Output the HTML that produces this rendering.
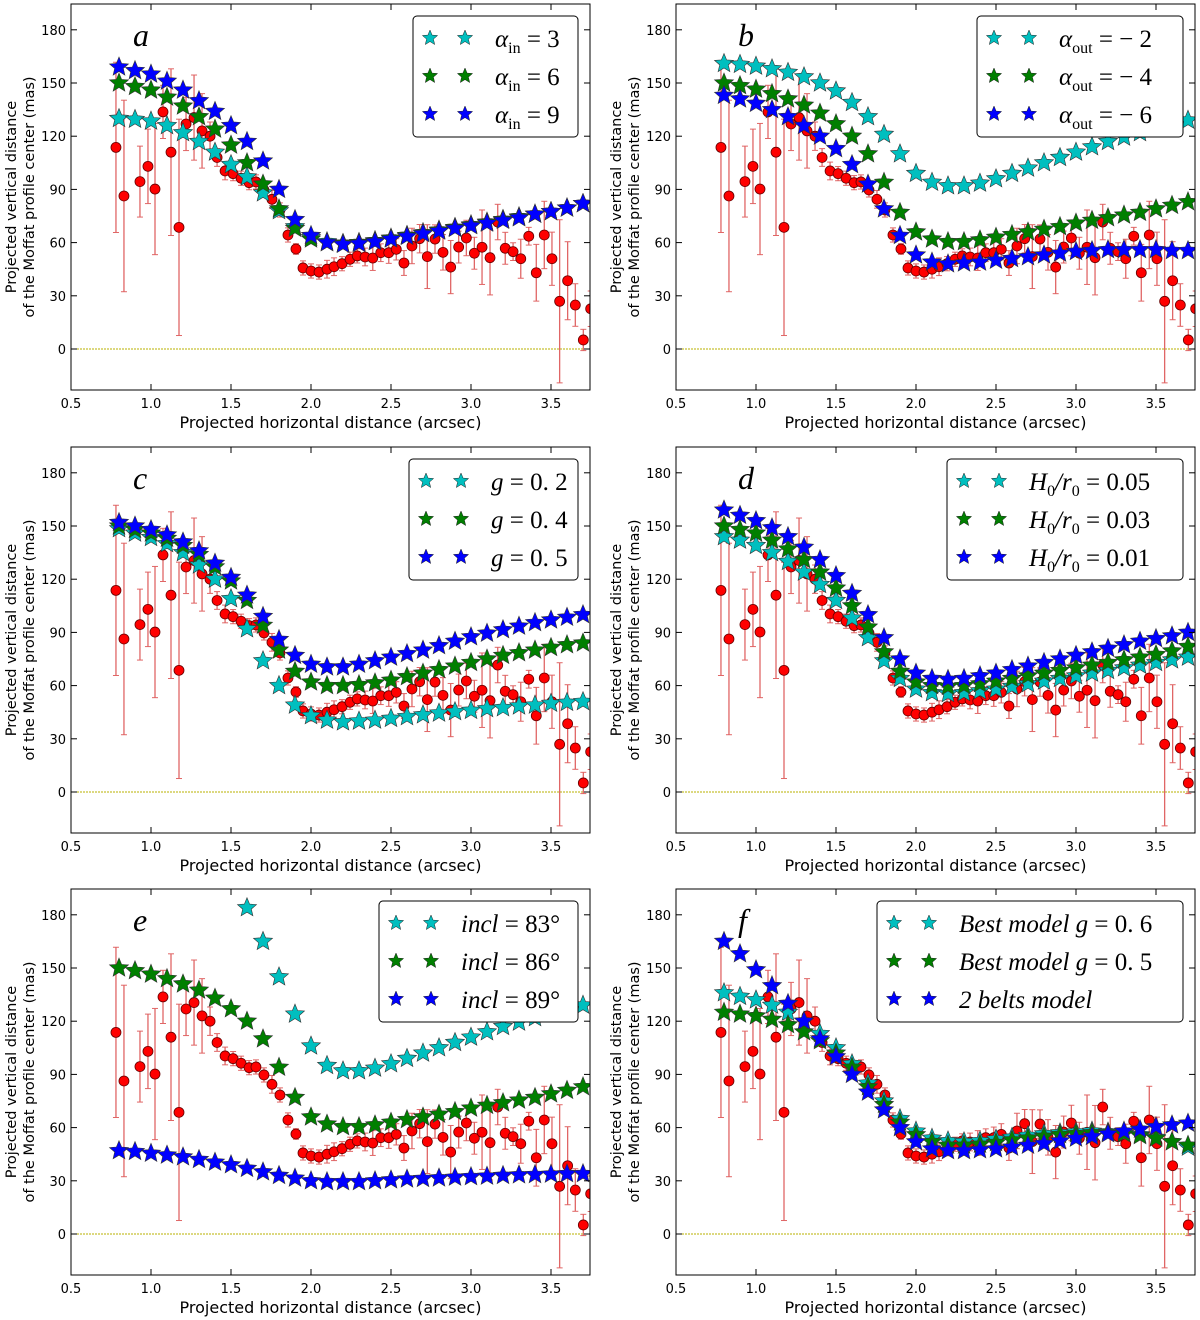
<!DOCTYPE html>
<html><head><meta charset="utf-8"><style>
body{margin:0;background:#fff;}
svg{display:block;font-family:"DejaVu Sans","Liberation Sans",sans-serif;}
.lt{font-family:"Liberation Serif",serif;font-size:25px;}
</style></head><body>
<svg id="fig" width="1200" height="1320" viewBox="0 0 1200 1320" xmlns="http://www.w3.org/2000/svg"></svg>
<script>
// ---- data ----
const redX=[0.781,0.831,0.931,0.981,1.025,1.075,1.125,1.175,1.219,1.269,1.319,1.369,1.413,1.463,1.513,1.563,1.613,1.656,1.706,1.756,1.806,1.856,1.906,1.95,2.0,2.05,2.1,2.144,2.194,2.244,
2.289,2.338,2.386,2.436,2.486,2.533,2.581,2.631,2.679,2.727,2.775,2.825,2.873,2.923,2.971,3.021,3.069,3.119,3.167,3.214,3.263,3.311,3.361,3.408,3.458,3.506,3.554,3.604,3.652,3.702,3.748];
const redY=[113.7,86.3,94.4,103,90.2,133.7,111,68.6,126.9,130.5,123,120,108,100.4,98.9,96.3,93.8,94.2,89.7,84.4,78.4,64.3,56.4,45.7,44,43.4,45,46.4,48.1,50.6,
52.5,51.9,51.3,54.3,54.3,56.2,48.5,58.1,62.2,52.1,62,54.5,46.2,57.5,62.6,54,57.4,51.5,71.6,56.8,54.9,50.9,63.6,43,64.3,50.9,26.9,38.5,24.8,5.1,22.7];
const redErr=[48,54,20,21,37,15,47,61,15,24,21,8,5,5,4,4,4,4,4,5,4,4,3,4,4,4,5,5,4,4,
4,5,7,5,6,6,7,10,8,18,8,10,15,9,10,9,21,21,10,9,5,11,5,16,19,15,46,22,12,6,10];
const modelX=[0.8,0.9,1.0,1.1,1.2,1.3,1.4,1.5,1.6,1.7,1.8,1.9,2.0,2.1,2.2,2.3,2.4,2.5,2.6,2.7,2.8,2.9,3.0,3.1,3.2,3.3,3.4,3.5,3.6,3.7];
const aCyan=[130,129.5,128.5,126,122,117,111,104,97,88,78,69,63,60.5,59.5,60,61,62.5,64,65.5,67,68.5,70,71.5,73,74.5,76,77.5,79.5,82];
const aGreen=[150,148,146,142,137,131,124,115,105,93,79,68,62,60,59.5,60,61,62.5,64,65.5,67,68.5,70,71.5,73,74.5,76,77.5,79.5,82];
const aBlue=[159,157,155,151,146,140,134,126,117,106,90,73,64,60,59,59.5,60.5,62,63.5,65,66.5,68,69.5,71,72.5,74,76,77.5,79.5,82];
const bCyan=[161,160.5,159.5,158,156,153.5,150,145.5,139,131,121,110,99,94,92,92,93.5,96,99,102,105,108,111,114,117,119.5,122,124.5,127,129];
const bGreen=[150,148.5,146.5,144,141,137.5,133,127,120,110,94,77,66,62,60.5,60.5,61.5,63,64.5,66,67.5,69,71,72.5,74,75.5,77,79,81,83];
const bBlue=[143,141,138.5,135,131,126,120,113,104,93,79,64,53,49,48,48.5,49,50,51,52,53,54,55,55.5,56,56,56,56,55.5,55.5];
const cCyan=[148.5,146,143.5,140,135,128,120,109,92,74,60,49,43,40.5,39.5,40,40.5,41.5,42.5,43.5,44.5,45.3,46,47,47.5,48.5,49,50,50.5,51];
const cGreen=[150,148,146,143,139,134,127,119,108,94,80,68,62,60,60,60.5,61.5,63,65,67,69,71,73,75,77,78.5,80,81.5,83,84];
const cBlue=[152,150,148,145,141,136,129,121,111,99,86,77,72,70.5,70.5,72,74,76,78,80,82.5,85,87.5,89.5,91.5,93.5,95.5,97,98.5,100];
const dCyan=[144,142,139,135,130,124,117,108,98,87,74,64,58,56,55.5,56,57,58,59.5,61,62.5,64,65.5,67,68.5,70,71.5,73,74.5,76];
const dGreen=[150,148,146,142,137,131,124,115,105,93,79,68,62,60,59.5,60,61,62.5,64,65.5,67,68.5,70,71.5,73,74.5,76,77.5,79.5,82];
const dBlue=[159,156,153,149,144,138,131,122,112,100,87,75,67,64,63.5,64,65.5,67,69,71,73,75,77,79,81,83,85,86.5,88,90];
const eCyan=[300,290,280,265,250,235,218,201,184,165,145,124,106,95,92,92,93.5,96,99,102,105,108,111,114,117,119.5,122,124.5,127,129];
const eGreen=[150,148.5,146.5,144,141,137.5,133,127,120,110,94,77,66,62,60.5,60.5,61.5,63,64.5,66,67.5,69,71,72.5,74,75.5,77,79,81,83];
const eBlue=[47,46.5,45.5,44.5,43.5,42,40.5,39,37,35,33,31.5,30,29.5,29.5,29.5,30,30.5,31,31.3,31.6,32,32.3,32.6,33,33.3,33.5,33.7,34,34];
const fCyan=[136,134,132,129,125,120,113,105,96,85,75,65,58,54,52.5,52,52.5,53.5,54.5,55.5,56.5,57,57.5,58,57.5,57,56,54.5,52,49];
const fGreen=[125,124,123,121,118,114,109,102,94,83,73,63,56,52,50,50,50.5,51.5,53,54,55,56,56.5,57,57,56.5,55.5,54,52,50];
const fBlue=[165,158,149,140,130,120,110,100,90,80,70,60,52,48,47,47,47.5,48,49,50,51,52.5,54,55,56.5,58,59,60.5,61.5,62.5];
const xTicks=[0.5,1.0,1.5,2.0,2.5,3.0,3.5];
const xTickLabels=["0.5","1.0","1.5","2.0","2.5","3.0","3.5"];
const yTicks=[0,30,60,90,120,150,180];
const yTickLabels=["0","30","60","90","120","150","180"];

const NS="http://www.w3.org/2000/svg";
const svg=document.getElementById('fig');
function mk(tag,attrs,parent){const e=document.createElementNS(NS,tag);for(const k in attrs)e.setAttribute(k,attrs[k]);(parent||svg).appendChild(e);return e;}
function starPath(cx,cy,R){const r=R*0.45;let d='';for(let i=0;i<10;i++){const a=-Math.PI/2+i*Math.PI/5;const rr=i%2?r:R;d+=(i?'L':'M')+(cx+rr*Math.cos(a)).toFixed(1)+','+(cy+rr*Math.sin(a)).toFixed(1);}return d+'Z';}
const COL={cyan:'#00bfbf',green:'#007f00',blue:'#0000ff'};

const panels=[
 {id:'a',ox:0,oy:0,series:[['cyan',aCyan],['green',aGreen],['blue',aBlue]],leg:[413,578],labels:[['α','in','= 3'],['α','in','= 6'],['α','in','= 9']]},
 {id:'b',ox:605,oy:0,series:[['cyan',bCyan],['green',bGreen],['blue',bBlue]],leg:[977,1183],labels:[['α','out','= − 2'],['α','out','= − 4'],['α','out','= − 6']]},
 {id:'c',ox:0,oy:443,series:[['cyan',cCyan],['green',cGreen],['blue',cBlue]],leg:[409,578],labels:[['g','','= 0. 2'],['g','','= 0. 4'],['g','','= 0. 5']]},
 {id:'d',ox:605,oy:443,series:[['cyan',dCyan],['green',dGreen],['blue',dBlue]],leg:[947,1183],labels:[['H','0','/r'],['H','0','/r'],['H','0','/r']],dl:['0.05','0.03','0.01']},
 {id:'e',ox:0,oy:885,series:[['cyan',eCyan],['green',eGreen],['blue',eBlue]],leg:[379,578],labels:[['incl','','= 83°'],['incl','','= 86°'],['incl','','= 89°']]},
 {id:'f',ox:605,oy:885,series:[['cyan',fCyan],['green',fGreen],['blue',fBlue]],leg:[877,1183],labels:[['Best model g','','= 0. 6'],['Best model g','','= 0. 5'],['2 belts model','','']]}
];

panels.forEach(p=>{
  const g=mk('g',{});
  
  
  const L=71+p.ox,R=590+p.ox,T=4+p.oy,B=390+p.oy;
  const sx=x=>L+(x-0.5)*160;
  const sy=v=>349+p.oy-v*1.7733;
  const cid='clip'+p.id;
  const cp=mk('clipPath',{id:cid},g);mk('rect',{x:L,y:T,width:R-L,height:B-T},cp);
  const zl=mk('line',{x1:L,x2:R,y1:sy(0),y2:sy(0),stroke:'#b8b000','stroke-width':1,'stroke-dasharray':'2,1'},g);
  
  
  const plot=mk('g',{'clip-path':'url(#'+cid+')'},g);
  const eg=mk('g',{},plot);
  
  
  redX.forEach((x,i)=>{
    const cx=sx(x),y1=sy(redY[i]+redErr[i]),y2=sy(redY[i]-redErr[i]);
    mk('line',{x1:cx,x2:cx,y1:y1,y2:y2,stroke:'#e06666','stroke-width':1.3},eg);
    mk('line',{x1:cx-3,x2:cx+3,y1:y1,y2:y1,stroke:'#e06666','stroke-width':1},eg);
    mk('line',{x1:cx-3,x2:cx+3,y1:y2,y2:y2,stroke:'#e06666','stroke-width':1},eg);
  });
  redX.forEach((x,i)=>{
    const c=mk('circle',{cx:sx(x),cy:sy(redY[i]),r:5,fill:'#ff0000',stroke:'#600','stroke-width':0.8},eg);
    
    
  });
  p.series.forEach(([col,vals])=>{
    const sg=mk('g',{},plot);
    
    
    modelX.forEach((x,i)=>{
      const s=mk('path',{d:starPath(sx(x),sy(vals[i]),10),fill:COL[col],stroke:'#333','stroke-width':0.6},sg);
      
      
    });
  });
  const fr=mk('rect',{x:L,y:T,width:R-L,height:B-T,fill:'none',stroke:'#000','stroke-width':1},g);
  
  
  xTicks.forEach((t,i)=>{
    const X=sx(t);
    mk('line',{x1:X,x2:X,y1:B,y2:B-6,stroke:'#000'},g);
    mk('line',{x1:X,x2:X,y1:T,y2:T+6,stroke:'#000'},g);
    const tl=mk('text',{x:X,y:B+18,'text-anchor':'middle','font-size':13},g);
    tl.textContent=xTickLabels[i];
    
    
  });
  yTicks.forEach((t,i)=>{
    const Y=sy(t);
    mk('line',{x1:L,x2:L+6,y1:Y,y2:Y,stroke:'#000'},g);
    mk('line',{x1:R,x2:R-6,y1:Y,y2:Y,stroke:'#000'},g);
    const tl=mk('text',{x:L-5,y:Y+5,'text-anchor':'end','font-size':13},g);
    tl.textContent=yTickLabels[i];
    
    
  });
  const xt=mk('text',{x:(L+R)/2,y:B+38,'text-anchor':'middle','font-size':16},g);
  xt.textContent='Projected horizontal distance (arcsec)';
  
  
  const cy=(T+B)/2;
  const yt=mk('text',{'text-anchor':'middle','font-size':14.5,transform:'translate('+(p.ox+16)+','+cy+') rotate(-90)'},g);
  const t1=mk('tspan',{x:0,y:0},yt);t1.textContent='Projected vertical distance';
  const t2=mk('tspan',{x:0,y:18},yt);t2.textContent='of the Moffat profile center (mas)';
  
  
  const pl=mk('text',{x:L+62,y:T+42,'font-family':'Liberation Serif,serif','font-style':'italic','font-size':32},g);
  pl.textContent=p.id;
  
  
  const lg=mk('g',{},g);
  
  
  const lx=p.leg[0],lr=p.leg[1],ly=T+12;
  mk('rect',{x:lx,y:ly,width:lr-lx,height:121,rx:4,fill:'#fff',stroke:'#000','stroke-width':1},lg);
  ['cyan','green','blue'].forEach((col,i)=>{
    const yy=ly+22+i*38;
    const en=mk('g',{},lg);
    
    
    mk('path',{d:starPath(lx+17,yy,8),fill:COL[col],stroke:'#222','stroke-width':0.5},en);
    mk('path',{d:starPath(lx+52,yy,8),fill:COL[col],stroke:'#222','stroke-width':0.5},en);
    const lab=p.labels[i];
    const tx=mk('text',{x:lx+82,y:yy+9,class:'lt'},en);
    const a=mk('tspan',{'font-style':'italic'},tx);a.textContent=lab[0];
    if(lab[1]){const s=mk('tspan',{'font-size':16,dy:6},tx);s.textContent=lab[1];}
    if(p.dl){
      const r0=mk('tspan',{'font-style':'italic',dy:-6},tx);r0.textContent='/r';
      const s0=mk('tspan',{'font-size':16,dy:6},tx);s0.textContent='0';
      const rest=mk('tspan',{dy:-6},tx);rest.textContent=' = '+p.dl[i];
    } else if(lab[2]){
      const rest=mk('tspan',{dy:lab[1]?-6:0},tx);rest.textContent=' '+lab[2];
    }
  });
});
</script>
</body></html>
